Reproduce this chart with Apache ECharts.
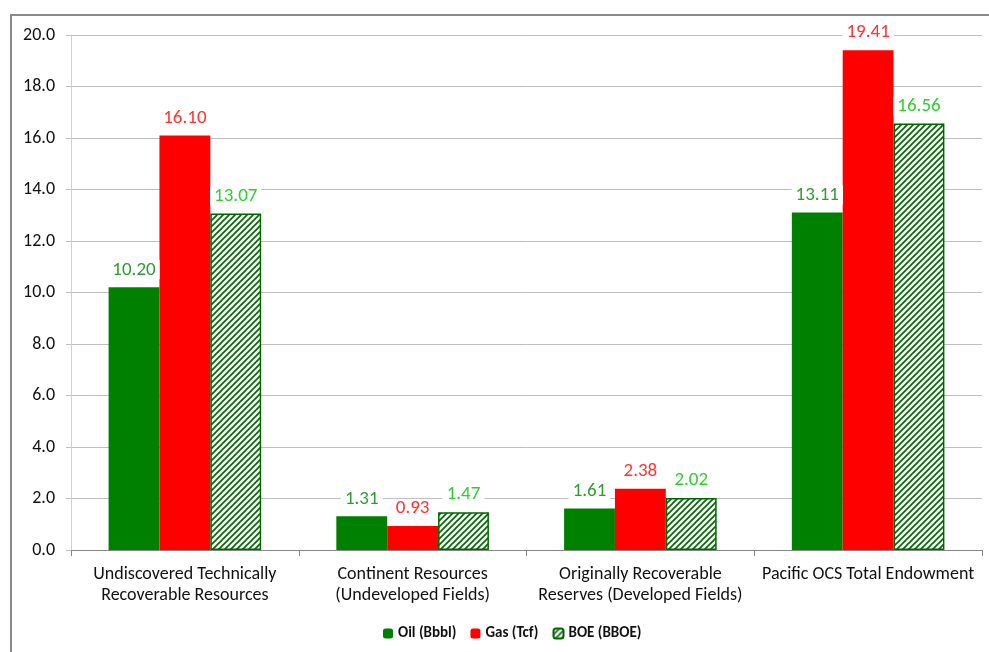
<!DOCTYPE html>
<html>
<head>
<meta charset="utf-8">
<script src="https://cdn.jsdelivr.net/npm/echarts@6/dist/echarts.min.js"></script>
<style>
  html, body { margin: 0; padding: 0; background: #fff; }
  #chart { width: 989px; height: 652px; }
</style>
</head>
<body>
<div id="chart"></div>
<script>
  // categories and values
  const categories = [
    'Undiscovered Technically\nRecoverable Resources',
    'Continent Resources\n(Undeveloped Fields)',
    'Originally Recoverable\nReserves (Developed Fields)',
    'Pacific OCS Total Endowment'
  ]
  const oilValues = [10.20, 1.31, 1.61, 13.11]
  const gasValues = [16.10, 0.93, 2.38, 19.41]
  const boeValues = [13.07, 1.47, 2.02, 16.56]
  const seriesNames = ['Oil (Bbbl)', 'Gas (Tcf)', 'BOE (BBOE)']

  const font = 'Carlito, Calibri, "Liberation Sans", sans-serif'

  // diagonal hatch for the BOE bars
  const makeHatch = () => {
    const c = document.createElement('canvas')
    c.width = 6
    c.height = 6
    const ctx = c.getContext('2d')
    ctx.fillStyle = '#fff'
    ctx.fillRect(0, 0, 6, 6)
    ctx.strokeStyle = '#006600'
    ctx.lineWidth = 1.6
    ctx.beginPath()
    ctx.moveTo(-1, 7); ctx.lineTo(7, -1)
    ctx.moveTo(-4, 4); ctx.lineTo(4, -4)
    ctx.moveTo(2, 10); ctx.lineTo(10, 2)
    ctx.stroke()
    return c
  }

  const labelFor = (color) => ({
    show: true,
    position: 'top',
    distance: 8,
    color: color,
    fontFamily: font,
    fontSize: 19,
    backgroundColor: '#fff',
    padding: [0, 4],
    formatter: (p) => p.value.toFixed(2)
  })

  const chart = echarts.init(document.getElementById('chart'))

  chart.setOption({
    animation: false,
    graphic: [{
      type: 'rect',
      shape: { x: 11, y: 15, width: 1200, height: 900 },
      style: { fill: 'none', stroke: '#8a8a8a', lineWidth: 2 },
      silent: true
    }],
    legend: {
      bottom: 6,
      left: 378,
      itemWidth: 10,
      itemHeight: 10,
      itemGap: 14,
      textStyle: { fontFamily: font, fontSize: 15, fontWeight: 'bold', color: '#111' },
      data: seriesNames
    },
    grid: { left: 71, right: 7, top: 35, bottom: 102 },
    xAxis: {
      type: 'category',
      data: categories,
      axisLine: { lineStyle: { color: '#868686', width: 1 } },
      axisTick: { show: true, length: 6, lineStyle: { color: '#868686' } },
      axisLabel: { fontFamily: font, fontSize: 18, color: '#111', margin: 14, lineHeight: 21, interval: 0 }
    },
    yAxis: {
      type: 'value',
      min: 0,
      max: 20,
      interval: 2,
      axisLine: { show: true, lineStyle: { color: '#d0d0d0' } },
      axisTick: { show: true, length: 5, lineStyle: { color: '#bfbfbf' } },
      axisLabel: { fontFamily: font, fontSize: 18, color: '#111', margin: 16, formatter: (v) => v.toFixed(1) },
      splitLine: { lineStyle: { color: '#bfbfbf' } }
    },
    series: [
      {
        name: seriesNames[0],
        type: 'bar',
        data: oilValues,
        barGap: '0%',
        barCategoryGap: '33%',
        itemStyle: { color: '#008000' },
        label: labelFor('#339933')
      },
      {
        name: seriesNames[1],
        type: 'bar',
        data: gasValues,
        barGap: '0%',
        barCategoryGap: '33%',
        itemStyle: { color: '#ff0000' },
        label: labelFor('#ff3333')
      },
      {
        name: seriesNames[2],
        type: 'bar',
        data: boeValues,
        barGap: '0%',
        barCategoryGap: '33%',
        itemStyle: {
          color: { image: makeHatch(), repeat: 'repeat' },
          borderColor: '#006600',
          borderWidth: 1.5
        },
        label: labelFor('#33cc33')
      }
    ]
  })
</script>
</body>
</html>
